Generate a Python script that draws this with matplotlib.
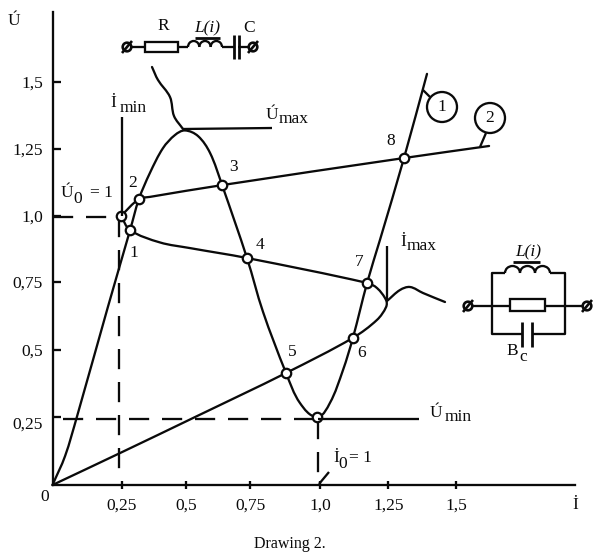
import matplotlib
matplotlib.use("Agg")
import numpy as np
import matplotlib.pyplot as plt
from matplotlib.path import Path
from matplotlib.patches import PathPatch, Circle, Rectangle, Arc
from matplotlib.transforms import ScaledTranslation

plt.rcParams['font.family'] = ['Liberation Serif', 'DejaVu Serif']

# ---- data ----
curve1_i = [0, .047, .092, .207, .290, .323, .364, .413, .458, .495, .544, .589, .634, .727, .787, .873, .925, .989, 1.037, 1.086, 1.123, 1.176, 1.224, 1.314, 1.400]
curve1_u = [0, .108, .257, .664, .951, 1.067, 1.164, 1.257, 1.306, 1.323, 1.302, 1.239, 1.119, .847, .646, .418, .306, .254, .306, .429, .549, .754, .914, 1.220, 1.534]
curve2a_i = [0, .252, .540, .873, 1.123, 1.213, 1.247, 1.247, 1.213, 1.176, .727, .514, .402, .290, .256]
curve2a_u = [0, .119, .257, .418, .549, .616, .664, .690, .735, .754, .847, .884, .905, .951, 1.004]
curve2b_i = [.256, .323, .364, .634, 1.314, 1.632]
curve2b_u = [1.004, 1.067, 1.075, 1.119, 1.220, 1.265]
point_i = [.290, .323, .634, .727, .873, 1.123, 1.176, 1.314, .256, .989]
point_u = [.951, 1.067, 1.119, .847, .418, .549, .754, 1.220, 1.004, .254]
xtick_pos = [.26, .50, .74, 1.0, 1.255, 1.51]
xtick_labels = ['0,25', '0,5', '0,75', '1,0', '1,25', '1,5']
ytick_pos = [.255, .505, .757, 1.005, 1.255, 1.505]
ytick_labels = ['0,25', '0,5', '0,75', '1,0', '1,25', '1,5']
i_min, i_zero, u_zero, u_min = .249, .992, 1.0, .245

LW = 1.65
FS = 12.5
K = '#0a0a0a'

fig = plt.figure(figsize=(6, 5.54), dpi=100)
ax = fig.add_axes([0, 0, 1, 1])
ax.set_xlim(-52.5 / 267.5, 547.5 / 267.5)
ax.set_ylim(-69 / 268, 485 / 268)
ax.patch.set_alpha(0)
for s in ('top', 'right'):
    ax.spines[s].set_visible(False)
for s in ('left', 'bottom'):
    ax.spines[s].set_position(('data', 0))
    ax.spines[s].set_linewidth(LW)
    ax.spines[s].set_color(K)
ax.spines['left'].set_bounds(0, 1.765)
ax.spines['bottom'].set_bounds(0, 1.953)
ax.set_xticks(xtick_pos, xtick_labels, fontsize=FS, color=K)
ax.set_yticks(ytick_pos, ytick_labels, fontsize=FS, color=K)
ax.set_yticks(ytick_pos, minor=True)
ax.tick_params(axis='x', direction='inout', length=6, width=LW, pad=6, color=K)
ax.tick_params(axis='y', which='major', direction='in', length=6, width=LW, pad=7, color=K)
ax.tick_params(axis='y', which='minor', direction='out', length=2.2, width=LW, color=K)
for lab in ax.get_yticklabels():
    if lab.get_text() == '0,25':
        lab.set_transform(lab.get_transform() + ScaledTranslation(0, -6 / 100, fig.dpi_scale_trans))


def smooth(xs, ys):
    """Draw a round line through the given points (cubic pieces, no extra data)."""
    p = np.column_stack([xs, ys], ).astype(float)
    tang = []
    for k in range(len(p)):
        v = p[min(k + 1, len(p) - 1)] - p[max(k - 1, 0)]
        tang.append(v / np.hypot(*v))
    verts = [p[0]]
    codes = [Path.MOVETO]
    for k in range(len(p) - 1):
        d = np.hypot(*(p[k + 1] - p[k])) / 3
        verts += [p[k] + tang[k] * d, p[k + 1] - tang[k + 1] * d, p[k + 1]]
        codes += [Path.CURVE4] * 3
    return Path(verts, codes)


for xs, ys in ((curve1_i, curve1_u), (curve2a_i, curve2a_u), (curve2b_i, curve2b_u)):
    ax.add_patch(PathPatch(smooth(xs, ys), fill=False, lw=LW, ec=K, capstyle='round', zorder=3))

dash = (0, (8.8, 5.6))
ax.plot([0, i_min], [u_zero, u_zero], color=K, lw=LW, ls=dash, zorder=2)
ax.plot([0.04, i_zero], [u_min, u_min], color=K, lw=LW, ls=dash, zorder=2)
ax.plot([i_min, i_min], [u_zero, .05], color=K, lw=LW, ls=dash, zorder=2)
ax.plot([i_zero, i_zero], [u_min, 0], color=K, lw=LW, ls=dash, zorder=2)
ax.plot(point_i, point_u, ls='none', marker='o', ms=6.8, mfc='white', mec=K, mew=1.6, zorder=5)

# ---- annotation layer in picture pixels ----
an = fig.add_axes([0, 0, 1, 1])
an.set_xlim(0, 600)
an.set_ylim(554, 0)
an.axis('off')


def line(xs, ys, lw=LW):
    an.plot(xs, ys, color=K, lw=lw, solid_capstyle='butt', zorder=3)


def t(x, y, s, size=FS, **kw):
    an.text(x, y, s, fontsize=size, color=K, ha='center', va='center', **kw)


def terminal(x, y):
    an.add_patch(Circle((x, y), 4.3, fc='white', ec=K, lw=1.9, zorder=4))
    an.plot([x - 5, x + 5], [y + 6, y - 6], color=K, lw=1.9, solid_capstyle='butt', zorder=5)


def coil(x0, x1, y, n=3, h=6):
    w = (x1 - x0) / n
    for k in range(n):
        an.add_patch(Arc((x0 + w * (k + .5), y), w, 2 * h, theta1=180, theta2=360, lw=LW, color=K))


def bend(xs, ys):
    an.add_patch(PathPatch(smooth(xs, ys), fill=False, lw=LW, ec=K, capstyle='round', zorder=3))


# guide lines
line([121.5, 121.5], [117, 216])
line([387, 387], [246, 301])
line([183, 272], [129, 128])
line([318, 419], [419, 419])
line([319, 329], [484, 472])
bend([152, 158, 170, 174, 183], [67, 80, 97, 116, 129])
bend([387, 400, 410, 423, 445], [301, 290, 287, 293, 302])

# callout circles
line([423, 430], [90, 97])
an.add_patch(Circle((442, 107), 15, fc='white', ec=K, lw=LW, zorder=4))
t(442, 107, '1', zorder=5)
line([480, 486], [147, 133])
an.add_patch(Circle((490, 118), 15, fc='white', ec=K, lw=LW, zorder=4))
t(490, 118, '2', zorder=5)

# series circuit
y0 = 47
terminal(127, y0)
line([131, 145], [y0, y0])
an.add_patch(Rectangle((145, 42), 33, 10, fc='white', ec=K, lw=LW))
line([178, 188], [y0, y0])
coil(188, 222, y0)
line([222, 234], [y0, y0])
line([234, 234], [35, 59], 2)
line([238.5, 238.5], [35, 59], 2)
line([238, 249], [y0, y0])
terminal(253, y0)
t(163, 26, 'R')
t(207, 28, 'L(i)', style='italic')
line([195, 220], [38, 38], 2)
t(249, 28, 'C')

# parallel circuit
terminal(468, 306)
terminal(587, 306)
line([472, 510], [306, 306])
an.add_patch(Rectangle((510, 299), 35, 12, fc='white', ec=K, lw=LW))
line([545, 583], [306, 306])
line([505, 492, 492, 522], [273, 273, 334, 334])
line([532, 565, 565, 550], [334, 334, 273, 273])
coil(505, 550, 273, h=7)
line([522, 522], [322, 347], 2)
line([532, 532], [322, 347], 2)
t(528, 252, 'L(i)', style='italic')
line([513, 540], [262, 262], 2)
t(512, 351, 'B')
t(523, 357, 'c')

# text labels
t(14, 21, 'Ú')
t(575, 505, 'İ')
t(45, 497, '0')
t(290, 544, 'Drawing 2.', size=11.5)
t(113, 103, 'İ')
t(133, 108, 'min')
t(272, 115, 'Ú')
t(294, 119, 'max')
t(403, 242, 'İ')
t(422, 246, 'max')
t(436, 413, 'Ú')
t(458, 417, 'min')
t(67, 193, 'Ú')
t(78, 199, '0')
t(101, 193, '= 1')
t(336, 458, 'İ')
t(343, 464, '0')
t(360, 458, '= 1')
for num, x, y in ((1, 134, 253), (2, 133, 183), (3, 234, 167), (4, 260, 245),
                  (5, 292, 352), (6, 362, 353), (7, 359, 262), (8, 391, 141)):
    t(x, y, str(num))

fig.savefig('out.png', dpi=100)
